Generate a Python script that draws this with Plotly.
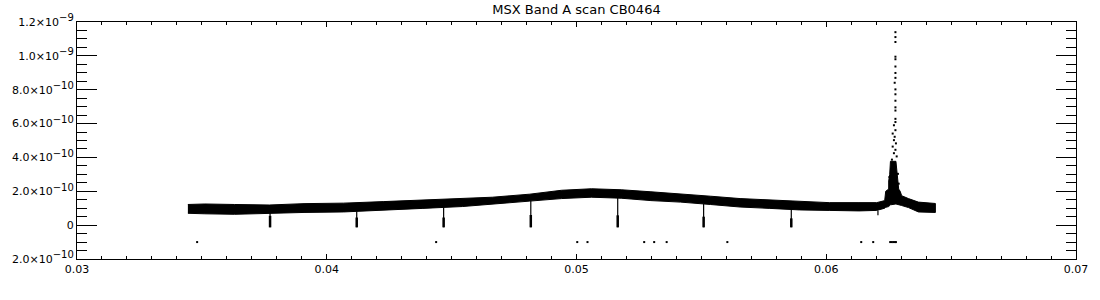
import plotly.graph_objects as go

SCALE = 1e-10  # data below in units of 1e-10

# Envelope of the dense, noisy scan (x, upper edge, lower edge)
band_x = [0.03444, 0.03512, 0.03631, 0.03770, 0.03909, 0.04067, 0.04226, 0.04385,
          0.04544, 0.04663, 0.04813, 0.04940, 0.05060, 0.05179, 0.05298, 0.05417,
          0.05536, 0.05655, 0.05774, 0.05893, 0.06012, 0.06131, 0.06202, 0.06234,
          0.06238, 0.06250, 0.06250, 0.06254, 0.06257, 0.06279, 0.06283, 0.06287,
          0.06290, 0.06296, 0.06302, 0.06329, 0.06369, 0.06437]
band_top = [1.22, 1.25, 1.22, 1.19, 1.27, 1.30, 1.39, 1.48,
            1.57, 1.65, 1.83, 2.06, 2.15, 2.09, 1.97, 1.86,
            1.71, 1.57, 1.48, 1.39, 1.33, 1.33, 1.33, 1.45,
            2.00, 2.13, 2.61, 3.00, 3.77, 3.77, 3.00, 2.61,
            2.13, 2.00, 1.74, 1.57, 1.36, 1.28]
band_bot = [0.70, 0.67, 0.64, 0.70, 0.75, 0.78, 0.87, 0.99,
            1.10, 1.22, 1.42, 1.57, 1.65, 1.59, 1.45, 1.36,
            1.22, 1.07, 0.99, 0.90, 0.87, 0.84, 0.87, 1.00,
            1.05, 1.10, 1.10, 1.15, 1.20, 1.25, 1.25, 1.22,
            1.20, 1.18, 1.16, 1.04, 0.78, 0.75]

# Periodic dips (x, top, start of thick part, bottom)
dip_x = [0.03773, 0.04120, 0.04468, 0.04817, 0.05165, 0.05509, 0.05860, 0.06207]
dip_top = [0.75, 0.82, 1.05, 1.42, 1.62, 1.25, 0.92, 0.87]
dip_mid = [0.55, 0.45, 0.45, 0.60, 0.58, 0.50, 0.40, 0.58]
dip_bot = [-0.13, -0.13, -0.13, -0.13, -0.13, -0.13, -0.13, 0.58]

# Scattered points of the sharp peak
peak_x = [0.06277, 0.06277, 0.06277, 0.06277, 0.06277, 0.06277, 0.06277, 0.06277,
          0.06274, 0.06277, 0.06277, 0.06277, 0.06277, 0.06277, 0.06277, 0.06277,
          0.06271, 0.06277, 0.06266, 0.06274, 0.06271, 0.06279, 0.06266, 0.06277,
          0.06271, 0.06282, 0.06263, 0.06287, 0.06253, 0.06290]
peak_y = [11.40, 11.11, 10.82, 9.95, 9.80, 9.37, 8.99, 8.70,
          8.41, 8.02, 7.73, 7.35, 6.96, 6.77, 6.28, 6.09,
          5.90, 5.61, 5.41, 5.22, 5.02, 4.83, 4.64, 4.45,
          4.25, 4.06, 3.87, 3.03, 2.84, 2.45]

# Isolated low points
low_x = [0.03481, 0.04438, 0.05003, 0.05044, 0.05271, 0.05311, 0.05361, 0.05604,
         0.06140, 0.06188, 0.06256, 0.06262, 0.06268, 0.06274, 0.06279]
low_y = [-1.0] * len(low_x)


def sci(m, e):
    return m + "×10<sup><span style='font-size:10px'>−" + e + "</span></sup>"


x_tickvals = [0.03, 0.04, 0.05, 0.06, 0.07]
x_ticktext = ["0.03", "0.04", "0.05", "0.06", "0.07"]
y_tickvals = [-2e-10, 0, 2e-10, 4e-10, 6e-10, 8e-10, 1.0e-9, 1.2e-9]
y_ticktext = [sci("2.0", "10"), "0", sci("2.0", "10"), sci("4.0", "10"),
              sci("6.0", "10"), sci("8.0", "10"), sci("1.0", "9"), sci("1.2", "9")]

fig = go.Figure()

poly_x = band_x + band_x[::-1]
poly_y = [v * SCALE for v in band_top] + [v * SCALE for v in band_bot[::-1]]
fig.add_trace(go.Scatter(x=poly_x, y=poly_y, mode="lines", fill="toself",
                         fillcolor="black", line=dict(color="black", width=1),
                         hoverinfo="skip"))

dx, dy, tx, ty = [], [], [], []
for x, t, m, b in zip(dip_x, dip_top, dip_mid, dip_bot):
    dx += [x, x, None]
    dy += [t * SCALE, b * SCALE, None]
    tx += [x, x, None]
    ty += [m * SCALE, b * SCALE, None]
fig.add_trace(go.Scatter(x=dx, y=dy, mode="lines", line=dict(color="black", width=1.2),
                         hoverinfo="skip"))
fig.add_trace(go.Scatter(x=tx, y=ty, mode="lines", line=dict(color="black", width=2.5),
                         hoverinfo="skip"))

fig.add_trace(go.Scatter(x=peak_x, y=[v * SCALE for v in peak_y], mode="markers",
                         marker=dict(symbol="square", size=2, color="black",
                                     line=dict(width=0))))
fig.add_trace(go.Scatter(x=low_x, y=[v * SCALE for v in low_y], mode="markers",
                         marker=dict(symbol="square", size=2, color="black",
                                     line=dict(width=0))))

font = dict(family="DejaVu Sans", size=11, color="black")

fig.update_layout(
    width=1100, height=300,
    margin=dict(l=71, r=21, t=20, b=41),
    paper_bgcolor="white", plot_bgcolor="white",
    showlegend=False,
    title=dict(text="MSX Band A scan CB0464", x=0.5, xref="paper", xanchor="center",
               y=1 - 9 / 300, yref="container", yanchor="middle",
               font=dict(family="DejaVu Sans", size=13, color="black")),
    xaxis=dict(range=[0.03, 0.07], tickmode="array", tickvals=x_tickvals,
               ticktext=x_ticktext, ticks="inside", ticklen=5, tickcolor="black",
               tickwidth=1, showline=True, linecolor="black", linewidth=1,
               mirror="ticks", showgrid=False, zeroline=False, tickfont=font,
               minor=dict(tick0=0.03, dtick=0.001, ticks="inside", ticklen=3,
                          tickcolor="black", showgrid=False)),
    yaxis=dict(range=[-2e-10, 1.2e-9], tickmode="array", tickvals=y_tickvals,
               ticktext=y_ticktext, ticks="inside", ticklen=20, tickcolor="black",
               tickwidth=1, showline=True, linecolor="black", linewidth=1,
               mirror="ticks", showgrid=False, zeroline=False, tickfont=font,
               minor=dict(tick0=0, dtick=5e-11, ticks="inside", ticklen=10,
                          tickcolor="black", showgrid=False)),
)

fig.write_html("out.html")
